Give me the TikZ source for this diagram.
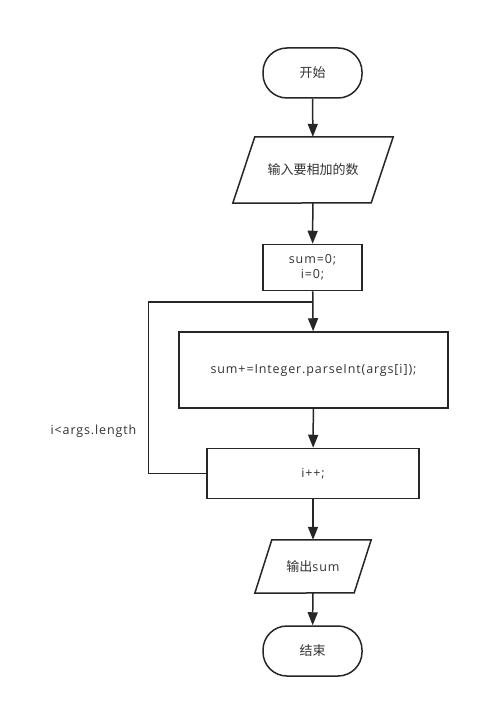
\documentclass[tikz,border=0pt]{standalone}
\usepackage{fontspec}
\setmainfont{Open Sans}[LetterSpace=7]
\newfontfamily\cjk{Noto Sans CJK SC}
\usetikzlibrary{arrows.meta}
\definecolor{ln}{HTML}{262626}
\definecolor{tx}{HTML}{333333}
\tikzset{
  every node/.style={font=\fontsize{12.5pt}{14.5pt}\selectfont, text=tx},
  lw/.style={draw=ln, line width=1.5pt},
  term/.style={lw, rounded corners=24pt, minimum width=99pt, minimum height=50pt, inner sep=0pt},
  proc/.style={lw, minimum height=46pt, inner sep=0pt, align=center},
  para/.style={inner sep=0pt},
  arr/.style={lw, -{Triangle[length=13pt,width=10pt]}},
}
\newcommand{\zh}[1]{{\cjk\fontsize{13pt}{15pt}\selectfont #1}}
\begin{document}
\begin{tikzpicture}[x=1pt,y=-1pt]
\fill[white] (0,0) rectangle (479,708);
\useasboundingbox (0,0) rectangle (479,708);

\node[term] (start) at (312.5,73) {\zh{开始}};

\node[para, minimum width=160pt, minimum height=66pt] (in) at (313,170) {\zh{输入要相加的数}};
\draw[lw, line join=miter] (in.north west) ++(22,0) -- (in.north east) -- ++(-22,66) -- (in.south west) -- cycle;

\node[proc, minimum width=99pt, minimum height=46pt] (init) at (312.5,267.5) {sum=0;\\i=0;};

\node[proc, minimum width=269pt, minimum height=76pt] (body) at (313.5,370) {sum+=Integer.parseInt(args[i]);};

\node[proc, minimum width=212pt, minimum height=50pt] (inc) at (313,473.5) {i++;};

\node[para, minimum width=116pt, minimum height=53pt] (out) at (313,566.5) {\zh{输出}sum};
\draw[lw, line join=miter] (out.north west) ++(17,0) -- (out.north east) -- ++(-17,53) -- (out.south west) -- cycle;

\node[term] (end) at (312.5,651) {\zh{结束}};

\node (cond) at (93.5,431) {i<args.length};

\coordinate (loopc) at (312.5,302);

\draw[arr] (start) -- (in);
\draw[arr] (in) -- (init);
\draw[arr] (init) -- (body);
\draw[arr] (body) -- (inc);
\draw[arr] (inc) -- (out);
\draw[arr] (out) -- (end);
\draw[lw] (inc.west) -- ++(-58,0) |- (loopc);
\end{tikzpicture}
\end{document}
